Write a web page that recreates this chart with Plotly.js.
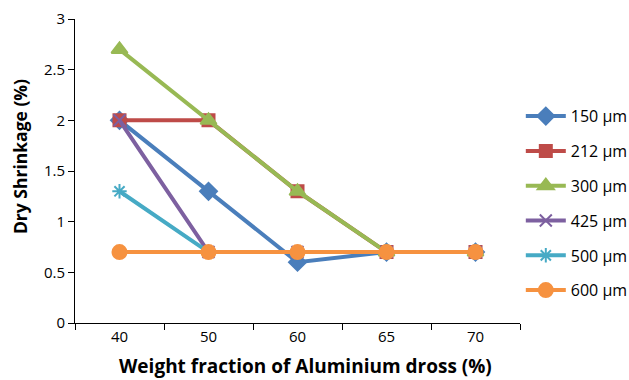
<!DOCTYPE html>
<html>
<head>
<meta charset="utf-8">
<script src="https://cdn.plot.ly/plotly-3.0.1.min.js"></script>
<style>html,body{margin:0;padding:0;background:#fff;}#chart{width:629px;height:380px;}</style>
</head>
<body>
<div id="chart"></div>
<script>
// Dry shrinkage versus aluminium dross content, one series per particle size
const fractions = ['40', '50', '60', '65', '70'];
const s150 = [2.0, 1.3, 0.6, 0.7, 0.7];
const s212 = [2.0, 2.0, 1.3, 0.7, 0.7];
const s300 = [2.7, 2.0, 1.3, 0.7, 0.7];
const s425 = [2.0, 0.7, 0.7, 0.7, 0.7];
const s500 = [1.3, 0.7, 0.7, 0.7, 0.7];
const s600 = [0.7, 0.7, 0.7, 0.7, 0.7];
const seriesNames = ['150 µm', '212 µm', '300 µm', '425 µm', '500 µm', '600 µm'];
const xTitle = 'Weight fraction of Aluminium dross (%)';
const yTitle = 'Dry Shrinkage (%)';

const styles = [
  {color: '#4A7EBB', symbol: 'diamond', size: 13},
  {color: '#BE4B48', symbol: 'square', size: 12},
  {color: '#98B954', symbol: 'triangle-up', size: 14},
  {color: '#7D60A0', symbol: 'x-thin', size: 12},
  {color: '#46AAC5', symbol: 'asterisk', size: 12},
  {color: '#F69240', symbol: 'circle', size: 14}
];

const allSeries = [s150, s212, s300, s425, s500, s600];
const traces = allSeries.map((ys, i) => ({
  type: 'scatter',
  mode: 'lines+markers',
  x: fractions,
  y: ys,
  name: seriesNames[i],
  legendgroup: 'g' + i,
  line: {color: styles[i].color, width: 4},
  marker: {
    color: styles[i].color,
    symbol: styles[i].symbol,
    size: styles[i].size,
    line: {color: styles[i].color, width: 2}
  }
}));

const font = '"Open Sans", sans-serif';
const layout = {
  width: 629, height: 380,
  margin: {l: 75, r: 109, t: 19, b: 57},
  paper_bgcolor: '#fff', plot_bgcolor: '#fff',
  font: {family: font, size: 15, color: '#000'},
  showlegend: true,
  legend: {
    xref: 'container', yref: 'paper',
    x: 0.828, xanchor: 'left', y: 0.394, yanchor: 'middle',
    font: {family: font, size: 16, color: '#000'},
    tracegroupgap: 11,
    itemwidth: 40
  },
  xaxis: {
    type: 'category',
    range: [-0.5, 4.5],
    tickson: 'boundaries',
    ticks: 'outside', ticklen: 6, tickcolor: '#000', tickwidth: 1,
    showline: true, linecolor: '#000', linewidth: 1,
    showgrid: false, zeroline: false,
    tickfont: {family: font, size: 15}
  },
  yaxis: {
    range: [0, 3], dtick: 0.5,
    ticks: 'outside', ticklen: 6, tickcolor: '#000', tickwidth: 1,
    showline: true, linecolor: '#000', linewidth: 1,
    showgrid: false, zeroline: false,
    tickfont: {family: font, size: 15}
  },
  annotations: [
    {
      text: xTitle, showarrow: false, borderpad: 0,
      xref: 'paper', yref: 'paper', x: 0.517, y: -0.1887,
      xanchor: 'center', yanchor: 'bottom',
      font: {family: font, size: 19, weight: 'bold', color: '#000'}
    },
    {
      text: yTitle, showarrow: false, textangle: -90,
      xref: 'paper', yref: 'paper', x: -0.1236, y: 0.549,
      xanchor: 'center', yanchor: 'middle',
      font: {family: font, size: 17.5, weight: 'bold', color: '#000'}
    }
  ]
};

Plotly.newPlot('chart', traces, layout, {displayModeBar: false, staticPlot: true});
</script>
</body>
</html>
